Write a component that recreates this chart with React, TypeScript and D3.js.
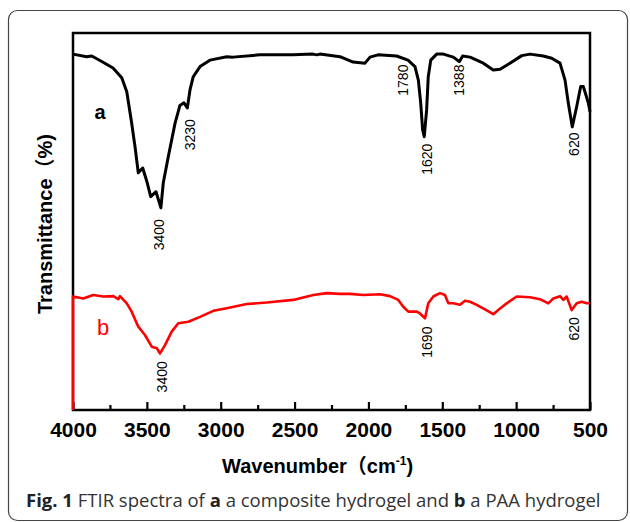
import React, { useEffect, useRef } from 'react';
import * as d3 from 'd3';

// FTIR spectra, wavenumber (cm-1) vs transmittance (arbitrary %)
const waveA = [4000, 3907, 3873, 3817, 3729, 3670, 3636, 3603, 3580, 3558, 3528, 3497, 3474, 3438, 3405, 3389, 3355, 3309, 3276, 3249, 3226, 3208, 3186, 3140, 3073, 2959, 2917, 2734, 2511, 2375, 2350, 2328, 2192, 2172, 2104, 2023, 1989, 1935, 1809, 1732, 1685, 1662, 1646, 1633, 1622, 1606, 1595, 1578, 1538, 1493, 1425, 1385, 1362, 1312, 1222, 1155, 1109, 1042, 962, 906, 816, 759, 703, 669, 647, 620, 590, 563, 545, 511, 500];
const transA = [94.4, 93.7, 93.9, 92.7, 90.7, 88.1, 84.4, 76.1, 69.8, 62.9, 64.2, 60.2, 56.6, 57.9, 53.6, 60.2, 67.2, 76.1, 80.8, 81.5, 80.1, 84.9, 88.4, 91.1, 92.8, 93.7, 93.6, 94.2, 94.2, 94.4, 94.2, 94.4, 93.7, 93.4, 92.3, 92.0, 93.6, 94.2, 93.9, 92.8, 91.1, 87.5, 81.4, 74.3, 72.5, 79.6, 88.4, 92.8, 94.4, 94.4, 93.6, 92.4, 93.9, 93.6, 92.0, 90.2, 90.4, 92.0, 94.0, 94.4, 93.9, 93.3, 92.0, 87.5, 81.4, 75.1, 80.5, 85.8, 85.8, 81.4, 79.1];

const waveB = [4000, 4000, 3930, 3863, 3795, 3727, 3693, 3682, 3636, 3603, 3558, 3513, 3467, 3433, 3411, 3377, 3332, 3287, 3219, 3140, 3050, 2959, 2824, 2689, 2509, 2373, 2282, 2192, 2125, 2035, 1922, 1854, 1798, 1764, 1730, 1673, 1651, 1617, 1595, 1561, 1515, 1482, 1459, 1425, 1380, 1346, 1312, 1267, 1211, 1155, 1121, 1064, 996, 906, 839, 782, 748, 703, 680, 658, 624, 590, 556, 522, 500];
const transB = [0, 30.1, 29.6, 30.5, 30.1, 30.2, 29.4, 30.2, 28.3, 26.1, 22.1, 19.9, 16.8, 16.4, 15.0, 17.2, 20.8, 23.0, 23.4, 24.7, 26.3, 27.0, 28.1, 28.5, 29.2, 30.5, 31.0, 30.8, 30.8, 30.5, 30.7, 30.2, 29.2, 27.4, 26.1, 26.1, 25.6, 24.3, 28.3, 30.1, 31.0, 30.5, 28.3, 28.3, 27.9, 29.0, 28.7, 27.9, 26.7, 25.4, 26.5, 28.3, 30.1, 29.9, 29.4, 28.3, 29.6, 30.2, 29.2, 30.1, 26.5, 28.3, 28.7, 28.3, 28.3];

const xTicks = [4000, 3500, 3000, 2500, 2000, 1500, 1000, 500];
const xMinorTicks = [3750, 3250, 2750, 2250, 1750, 1250, 750];

// peak labels: [wavenumber position, transmittance position, text]
const peaksA = [
  [3415, 46.5, '3400'],
  [3210, 73, '3230'],
  [1765, 87.5, '1780'],
  [1603, 66.5, '1620'],
  [1387, 87.5, '1388'],
  [610, 70.5, '620'],
];
const peaksB = [
  [3395, 8.8, '3400'],
  [1605, 18, '1690'],
  [610, 21.5, '620'],
];

const W = 630;
const H = 522;
const margin = { top: 33, right: 40, bottom: 112, left: 73 };
const SANS = '"Liberation Sans", Arial, sans-serif';

export default function App() {
  const ref = useRef<SVGSVGElement>(null);

  useEffect(() => {
    const svg = d3.select(ref.current);
    svg.selectAll('*').remove();

    const x = d3.scaleLinear().domain([4000, 500]).range([margin.left, W - margin.right]);
    const y = d3.scaleLinear().domain([0, 100]).range([H - margin.bottom, margin.top]);

    // outer figure box
    svg.append('rect')
      .attr('x', 8.5).attr('y', 10.5)
      .attr('width', 619).attr('height', 510)
      .attr('rx', 9)
      .attr('fill', 'none')
      .attr('stroke', '#444')
      .attr('stroke-width', 1.2);

    // bottom axis, ticks pointing inward
    const axisY = H - margin.bottom;
    const gx = svg.append('g').attr('transform', `translate(0,${axisY})`)
      .call(d3.axisBottom(x).tickValues(xTicks).tickSize(-8).tickPadding(12).tickSizeOuter(0).tickFormat(d3.format('d')));
    gx.select('.domain').remove();
    gx.selectAll('line').attr('stroke', '#000').attr('stroke-width', 2.2);
    gx.selectAll('text')
      .attr('font-family', SANS)
      .attr('font-weight', 'bold')
      .attr('font-size', 21)
      .attr('fill', '#000');

    const gm = svg.append('g').attr('transform', `translate(0,${axisY})`)
      .call(d3.axisBottom(x).tickValues(xMinorTicks).tickSize(-5).tickFormat(() => '').tickSizeOuter(0));
    gm.select('.domain').remove();
    gm.selectAll('line').attr('stroke', '#000').attr('stroke-width', 2.2);

    // plot frame
    svg.append('rect')
      .attr('x', margin.left).attr('y', margin.top)
      .attr('width', W - margin.right - margin.left)
      .attr('height', H - margin.bottom - margin.top)
      .attr('fill', 'none')
      .attr('stroke', '#000')
      .attr('stroke-width', 2.5);

    const line = d3.line<[number, number]>().x(d => x(d[0])).y(d => y(d[1]));

    svg.append('path')
      .datum(waveA.map((w, i) => [w, transA[i]] as [number, number]))
      .attr('d', line)
      .attr('fill', 'none')
      .attr('stroke', '#000')
      .attr('stroke-width', 3)
      .attr('stroke-linejoin', 'round');

    svg.append('path')
      .datum(waveB.map((w, i) => [w, transB[i]] as [number, number]))
      .attr('d', line)
      .attr('fill', 'none')
      .attr('stroke', '#ff0000')
      .attr('stroke-width', 2.6)
      .attr('stroke-linejoin', 'round');

    // peak annotations
    const addPeaks = (peaks: any[]) => {
      peaks.forEach(p => {
        svg.append('text')
          .attr('transform', `translate(${x(p[0])},${y(p[1])}) rotate(-90)`)
          .attr('text-anchor', 'middle')
          .attr('dy', '0.35em')
          .attr('font-family', SANS)
          .attr('font-size', 14)
          .attr('fill', '#000')
          .text(p[2]);
      });
    };
    addPeaks(peaksA);
    addPeaks(peaksB);

    // series labels
    svg.append('text')
      .attr('x', 100).attr('y', 119)
      .attr('text-anchor', 'middle')
      .attr('font-family', SANS)
      .attr('font-weight', 'bold')
      .attr('font-size', 20)
      .text('a');
    svg.append('text')
      .attr('x', 103).attr('y', 335)
      .attr('text-anchor', 'middle')
      .attr('font-family', SANS)
      .attr('font-size', 22)
      .attr('fill', '#ff0000')
      .text('b');

    // axis titles
    const yt = svg.append('text')
      .attr('transform', `translate(52,224) rotate(-90)`)
      .attr('text-anchor', 'middle')
      .attr('font-family', SANS)
      .attr('font-weight', 'bold')
      .attr('font-size', 20);
    yt.append('tspan').text('Transmittance');
    yt.append('tspan').attr('font-family', '"Noto Sans CJK SC", sans-serif').text('（');
    yt.append('tspan').text('%)');

    const xt = svg.append('text')
      .attr('x', 222).attr('y', 473)
      .attr('font-family', SANS)
      .attr('font-weight', 'bold')
      .attr('font-size', 20);
    xt.append('tspan').text('Wavenumber');
    xt.append('tspan').attr('font-family', '"Noto Sans CJK SC", sans-serif').text('（');
    xt.append('tspan').text('cm');
    xt.append('tspan').attr('dy', -8).attr('font-size', 12).text('-1');
    xt.append('tspan').attr('dy', 8).text(')');

    // caption
    const cap = svg.append('text')
      .attr('x', 26).attr('y', 507)
      .attr('font-family', '"Open Sans", "Noto Sans", sans-serif')
      .attr('font-size', 18.5)
      .attr('fill', '#333');
    cap.append('tspan').attr('font-weight', 'bold').attr('fill', '#222').text('Fig. 1');
    cap.append('tspan').text(' FTIR spectra of ');
    cap.append('tspan').attr('font-weight', 'bold').attr('fill', '#222').text('a');
    cap.append('tspan').text(' a composite hydrogel and ');
    cap.append('tspan').attr('font-weight', 'bold').attr('fill', '#222').text('b');
    cap.append('tspan').text(' a PAA hydrogel');
  }, []);

  return (
    <svg
      ref={ref}
      width={W}
      height={H}
      style={{ position: 'absolute', left: 0, top: 0, background: '#fff' }}
    />
  );
}
